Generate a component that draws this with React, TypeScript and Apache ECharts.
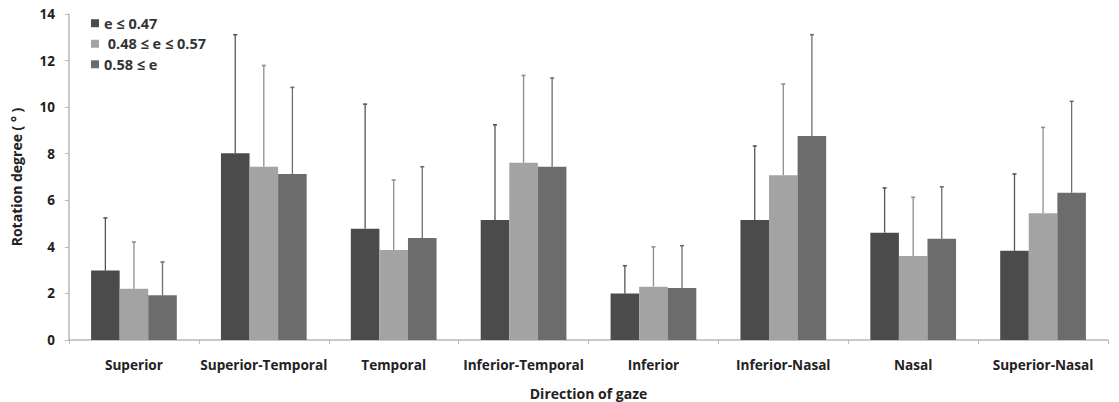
import React, { useEffect, useRef } from "react";
import * as echarts from "echarts";

// Gaze directions on the x axis
const categories = [
  "Superior",
  "Superior-Temporal",
  "Temporal",
  "Inferior-Temporal",
  "Inferior",
  "Inferior-Nasal",
  "Nasal",
  "Superior-Nasal",
];

const seriesNames = ["e ≤ 0.47", " 0.48 ≤ e ≤ 0.57", "0.58 ≤ e"];

// Mean rotation degree for each eccentricity group
const meanLow = [2.98, 8.02, 4.78, 5.15, 2.0, 5.15, 4.61, 3.83];
const meanMid = [2.2, 7.44, 3.86, 7.61, 2.29, 7.07, 3.61, 5.44];
const meanHigh = [1.92, 7.13, 4.38, 7.44, 2.23, 8.76, 4.35, 6.32];

// Standard deviations (upper error bars)
const sdLow = [2.26, 5.09, 5.35, 4.09, 1.19, 3.18, 1.92, 3.3];
const sdMid = [2.01, 4.35, 3.01, 3.75, 1.71, 3.92, 2.52, 3.69];
const sdHigh = [1.43, 3.72, 3.06, 3.81, 1.82, 4.35, 2.23, 3.93];

const yTicks = [0, 2, 4, 6, 8, 10, 12, 14];

const barColors = ["#4b4b4b", "#a3a3a3", "#6c6c6c"];
const errColors = ["#555555", "#8e8e8e", "#6e6e6e"];

const means = [meanLow, meanMid, meanHigh];
const sds = [sdLow, sdMid, sdHigh];

const CATEGORY_GAP = 0.34;

export default function App() {
  const ref = useRef<HTMLDivElement>(null);

  useEffect(() => {
    if (!ref.current) return;
    const chart = echarts.init(ref.current, null, { renderer: "svg" });

    const barSeries = means.map((m, i) => ({
      name: seriesNames[i],
      type: "bar",
      data: m,
      barGap: "0%",
      barCategoryGap: `${CATEGORY_GAP * 100}%`,
      itemStyle: { color: barColors[i] },
      z: 2,
    }));

    const errorSeries = means.map((m, i) => ({
      type: "custom",
      name: seriesNames[i] + " sd",
      data: m.map((v, k) => [k, v, v + sds[i][k]]),
      z: 1,
      silent: true,
      renderItem: (params: any, api: any) => {
        const k = api.value(0);
        const base = api.coord([k, api.value(1)]);
        const top = api.coord([k, api.value(2)]);
        const band = api.size([1, 0])[0];
        const barW = (band * (1 - CATEGORY_GAP)) / 3;
        const x = base[0] + (i - 1) * barW;
        const cap = 2;
        return {
          type: "group",
          children: [
            {
              type: "line",
              shape: { x1: x, y1: base[1], x2: x, y2: top[1] },
              style: { stroke: errColors[i], lineWidth: 1.3 },
            },
            {
              type: "line",
              shape: { x1: x - cap, y1: top[1], x2: x + cap, y2: top[1] },
              style: { stroke: errColors[i], lineWidth: 1.6 },
            },
          ],
        };
      },
    }));

    chart.setOption({
      animation: false,
      backgroundColor: "#ffffff",
      textStyle: { fontFamily: "Open Sans" },
      legend: {
        data: seriesNames,
        orient: "vertical",
        left: 86,
        top: 10,
        itemWidth: 8,
        itemHeight: 8,
        itemGap: 4,
        icon: "rect",
        textStyle: {
          fontFamily: "Open Sans",
          fontWeight: "bold",
          fontSize: 14.5,
          color: "#333333",
          lineHeight: 16.5,
        },
      },
      grid: {
        left: 69,
        right: 11,
        top: 14,
        bottom: 62,
        outerBoundsMode: "none",
        containLabel: false,
      },
      xAxis: {
        type: "category",
        data: categories,
        name: "Direction of gaze",
        nameLocation: "middle",
        nameGap: 45,
        nameTextStyle: {
          fontFamily: "Open Sans",
          fontWeight: "bold",
          fontSize: 14,
          lineHeight: 16,
          color: "#222222",
        },
        axisLine: { lineStyle: { color: "#b8b8b8", width: 1.5 } },
        axisTick: { show: true, length: 4, interval: 0, lineStyle: { color: "#b8b8b8" } },
        axisLabel: {
          interval: 0,
          margin: 17,
          fontFamily: "Open Sans",
          fontWeight: "bold",
          fontSize: 13.6,
          color: "#222222",
        },
      },
      yAxis: {
        type: "value",
        min: yTicks[0],
        max: yTicks[yTicks.length - 1],
        interval: 2,
        name: "Rotation degree ( ° )",
        nameLocation: "middle",
        nameGap: 46,
        nameTextStyle: {
          fontFamily: "Open Sans",
          fontWeight: "bold",
          fontSize: 14,
          color: "#222222",
        },
        splitLine: { show: false },
        axisLine: { show: true, lineStyle: { color: "#b8b8b8", width: 1.5 } },
        axisTick: { show: true, length: 4, lineStyle: { color: "#b8b8b8" } },
        axisLabel: {
          margin: 14,
          fontFamily: "Open Sans",
          fontWeight: "bold",
          fontSize: 13.5,
          color: "#222222",
        },
      },
      series: [...barSeries, ...errorSeries],
    });

    return () => chart.dispose();
  }, []);

  return (
    <div
      ref={ref}
      style={{ position: "fixed", left: 0, top: 0, width: 1119, height: 402 }}
    />
  );
}
